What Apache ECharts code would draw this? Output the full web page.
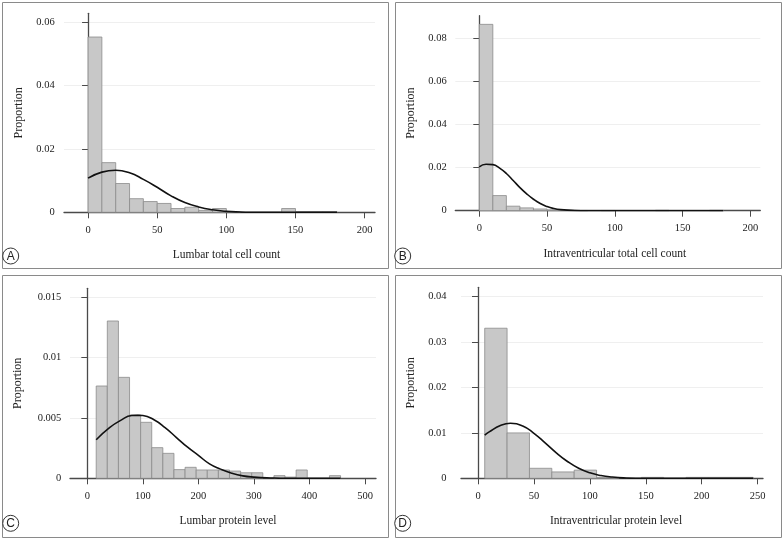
<!DOCTYPE html>
<html><head><meta charset="utf-8">
<script src="https://cdn.jsdelivr.net/npm/echarts@6/dist/echarts.min.js"></script>
<style>html,body{margin:0;padding:0;background:#fff}#c{width:784px;height:541px}</style>
</head><body><div id="c"></div>
<script>
// ---------- Panel A: Lumbar total cell count ----------
const aTitle = 'Lumbar total cell count';
const aEdges = [0,10,20,30,40,50,60,70,80,90,100,110,120,130,140,150,160,170,180];
const aHeights = [0.0554,0.0157,0.0091,0.0043,0.0034,0.0028,0.0012,0.0016,0.0006,0.0012,0.0001,0,0,0,0.0012,0.0002,0.0002,0.0002];
const aCurveX = [0,10,20,30,40,50,60,70,80,90,100,110,120,140,160,180];
const aCurveY = [0.0108,0.0127,0.0133,0.0125,0.0104,0.0079,0.0052,0.0031,0.0017,0.0008,0.0003,0.0001,0.00003,0,0,0];
const aXTicks = [0,50,100,150,200];
const aYTicks = [0,0.02,0.04,0.06];

// ---------- Panel B: Intraventricular total cell count ----------
const bTitle = 'Intraventricular total cell count';
const bEdges = [0,10,20,30,40,50,60,70,80,90,100,110,120,130,140,150,160,170,180];
const bHeights = [0.0862,0.0070,0.0021,0.0013,0.0008,0.0003,0.0002,0.0001,0,0.0001,0,0,0,0.0002,0,0,0,0.0002];
const bCurveX = [0,5,10,15,20,25,30,35,40,45,50,55,60,70,80,100,140,180];
const bCurveY = [0.0203,0.0215,0.0213,0.0197,0.0172,0.0140,0.0107,0.0078,0.0053,0.0033,0.0019,0.0010,0.0005,0.0001,0,0,0,0];
const bXTicks = [0,50,100,150,200];
const bYTicks = [0,0.02,0.04,0.06,0.08];

// ---------- Panel C: Lumbar protein level ----------
const cTitle = 'Lumbar protein level';
const cEdges = [16,36,56,76,96,116,136,156,176,196,216,236,256,276,296,316,336,356,376,396,416,436,456];
const cHeights = [0.00765,0.01304,0.00837,0.00525,0.00464,0.00254,0.00207,0.00072,0.00091,0.00069,0.00069,0.00069,0.0006,0.00046,0.00046,0,0.00022,0.0001,0.00069,0,0,0.00022];
const cCurveX = [16,40,60,80,91,100,120,140,160,180,200,220,240,260,280,300,330,360,400,456];
const cCurveY = [0.0032,0.0042,0.0048,0.0052,0.00522,0.0052,0.00485,0.0042,0.0034,0.0026,0.0019,0.0012,0.00076,0.00042,0.0002,0.0001,0.00003,0,0,0];
const cXTicks = [0,100,200,300,400,500];
const cYTicks = [0,0.005,0.01,0.015];

// ---------- Panel D: Intraventricular protein level ----------
const dTitle = 'Intraventricular protein level';
const dEdges = [6,26,46,66,86,106,126,146,166,186,206,226,246];
const dHeights = [0.0330,0.00998,0.0022,0.0014,0.0018,0.0002,0,0.0002,0,0.0002,0.0002,0.0002];
const dCurveX = [6,10,20,29,40,50,60,70,80,90,100,110,120,130,150,180,246];
const dCurveY = [0.0095,0.0102,0.0116,0.0121,0.0115,0.0099,0.0078,0.0056,0.0037,0.0022,0.0012,0.0006,0.00027,0.0001,0,0,0];
const dXTicks = [0,50,100,150,200,250];
const dYTicks = [0,0.01,0.02,0.03,0.04];

const panels = [
  {title:aTitle, edges:aEdges, h:aHeights, cx:aCurveX, cy:aCurveY, xt:aXTicks, yt:aYTicks,
   grid:{left:64,top:13.3,width:311,height:199}, xr:[-17.4,207.5], ymax:0.0629, yoff:-6.7, ygap:46, npad:14, letter:'A', lp:[10.7,256]},
  {title:bTitle, edges:bEdges, h:bHeights, cx:bCurveX, cy:bCurveY, xt:bXTicks, yt:bYTicks,
   grid:{left:455.3,top:15.7,width:305,height:195}, xr:[-17.7,207.4], ymax:0.0902, yoff:-7.4, ygap:46, npad:14, letter:'B', lp:[402.7,256]},
  {title:cTitle, edges:cEdges, h:cHeights, cx:cCurveX, cy:cCurveY, xt:cXTicks, yt:cYTicks,
   grid:{left:70,top:288.3,width:306,height:190}, xr:[-31.2,519.8], ymax:0.01575, yoff:-7.3, ygap:53, npad:10, letter:'C', lp:[10.7,523.3]},
  {title:dTitle, edges:dEdges, h:dHeights, cx:dCurveX, cy:dCurveY, xt:dXTicks, yt:dYTicks,
   grid:{left:461,top:287.3,width:302,height:191}, xr:[-15.2,254.8], ymax:0.042, yoff:-1.5, ygap:46, npad:8, letter:'D', lp:[402.7,523.3]}
];

const FONT = '"Liberation Serif", "DejaVu Serif", serif';
const TXT = '#222';
const AX = '#4a4a4a';

function histItem(params, api) {
  const x0 = api.value(0), x1 = api.value(1), h = api.value(2);
  if (!h) return null;
  const p0 = api.coord([x0, 0]);
  const p1 = api.coord([x1, h]);
  return {type:'rect', shape:{x:p0[0], y:p1[1], width:p1[0]-p0[0], height:p0[1]-p1[1]},
          style:{fill:'#c8c8c8', stroke:'#8c8c8c', lineWidth:0.8}};
}

const option = {backgroundColor:'#fff', animation:false, grid:[], xAxis:[], yAxis:[], series:[], graphic:[]};

panels.forEach((p, i) => {
  option.grid.push(Object.assign({containLabel:false}, p.grid));
  option.xAxis.push({
    type:'value', gridIndex:i, min:p.xr[0], max:p.xr[1],
    name:p.title, nameLocation:'middle', nameGap:37,
    nameTextStyle:{fontFamily:FONT, fontSize:11.5, color:TXT, padding:[0,0,0,p.npad]},
    axisLine:{show:true, onZero:false, lineStyle:{color:AX, width:1.3}},
    axisTick:{show:true, length:6, customValues:p.xt, lineStyle:{color:AX, width:1}},
    axisLabel:{customValues:p.xt, fontFamily:FONT, fontSize:10.5, color:TXT, margin:12},
    splitLine:{show:false}
  });
  option.yAxis.push({
    type:'value', gridIndex:i, min:0, max:p.ymax, offset:p.yoff,
    name:'Proportion', nameLocation:'middle', nameGap:p.ygap, nameRotate:90,
    nameTextStyle:{fontFamily:FONT, fontSize:12, color:TXT},
    axisLine:{show:true, lineStyle:{color:AX, width:1.3}},
    axisTick:{show:true, length:6, customValues:p.yt, lineStyle:{color:AX, width:1}},
    axisLabel:{customValues:p.yt, fontFamily:FONT, fontSize:10.5, color:TXT, margin:16},
    splitLine:{show:true, lineStyle:{color:'#efefef', width:1}}
  });
  const hist = [];
  for (let k = 0; k < p.h.length; k++) hist.push([p.edges[k], p.edges[k+1], p.h[k]]);
  option.series.push({
    type:'custom', xAxisIndex:i, yAxisIndex:i, renderItem:histItem,
    encode:{x:[0,1], y:2}, data:hist, z:2, silent:true
  });
  option.series.push({
    type:'line', xAxisIndex:i, yAxisIndex:i, showSymbol:false, smooth:true,
    data:p.cx.map((x, k) => [x, p.cy[k]]), lineStyle:{color:'#111', width:1.6}, z:3, silent:true
  });
  option.graphic.push({
    type:'group', x:p.lp[0], y:p.lp[1], children:[
      {type:'circle', shape:{cx:0, cy:0, r:8}, style:{fill:'#fff', stroke:'#333', lineWidth:1}},
      {type:'text', x:0, y:0.5, style:{text:p.letter, font:'12px "Liberation Sans", Arial, sans-serif', fill:'#222', align:'center', verticalAlign:'middle'}}
    ]
  });
});

// panel frames
[[2.5,2.5,386,266],[395.5,2.5,386,266],[2.5,275.5,386,262],[395.5,275.5,386,262]].forEach(r => {
  option.graphic.push({type:'rect', z:-1, shape:{x:r[0], y:r[1], width:r[2], height:r[3]},
    style:{fill:'none', stroke:'#8a8a8a', lineWidth:1}});
});

const chart = echarts.init(document.getElementById('c'), null, {renderer:'canvas'});
chart.setOption(option);
</script>
</body></html>
